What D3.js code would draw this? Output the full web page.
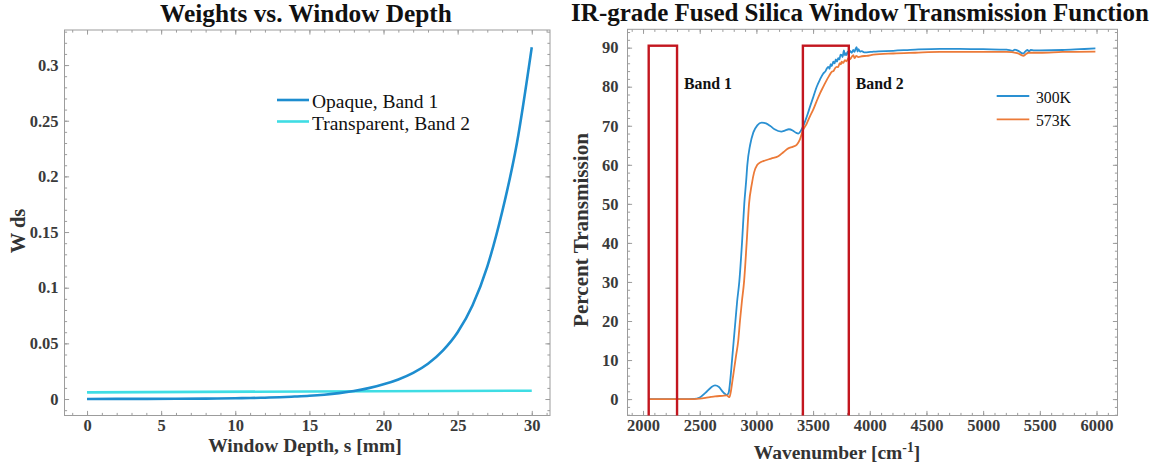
<!DOCTYPE html>
<html><head><meta charset="utf-8">
<script src="https://cdn.jsdelivr.net/npm/d3@7"></script>
<style>
body{margin:0;background:#fff}
svg{display:block}
text{font-family:"Liberation Serif","DejaVu Serif",serif}
</style>
</head><body>
<svg id="c" width="1158" height="467"></svg>
<script>
// ---------- DATA: left chart ----------
const depthS   = [0, 2, 4, 6, 8, 10, 11, 12, 13, 14, 15, 16, 17, 18, 19, 20, 21, 22, 23, 24, 25, 26, 27, 28, 29, 30];
const opaqueW  = [0.0000, 0.0001, 0.0001, 0.0002, 0.0004, 0.0007, 0.0009, 0.0012, 0.0016, 0.0022, 0.0029, 0.0039, 0.0053, 0.0072, 0.0098, 0.0132, 0.0176, 0.0235, 0.0317, 0.0435, 0.0600, 0.0840, 0.1190, 0.1680, 0.2300, 0.3160];
const transparentS = [0, 15, 30];
const transparentW = [0.0060, 0.0068, 0.0075];
const leftSeriesNames = ["Opaque, Band 1", "Transparent, Band 2"];
const leftXTicks = [0, 5, 10, 15, 20, 25, 30];
const leftYTicks = [0, 0.05, 0.1, 0.15, 0.2, 0.25, 0.3];
const leftYTickLabels = ["0", "0.05", "0.1", "0.15", "0.2", "0.25", "0.3"];

// ---------- DATA: right chart ----------
const wn300 = [2050,2200,2350,2450,2500,2550,2600,2635,2670,2700,2725,2740,2755,2770,2785,2800,2815,2830,2849,2873,2893,2910,2920,2944,2973,3008,3047,3085,3120,3160,3219,3255,3286,3320,3350,3370,3390,3420,3450,3473,3500,3532,3560,3590,3610,3620,3634,3645,3655,3665,3678,3690,3700,3710,3722,3732,3742,3752,3760,3772,3780,3790,3796,3805,3815,3825,3840,3855,3865,3875,3884,3892,3900,3914,3930,3950,3973,4031,4207,4400,4619,4795,5000,5207,5260,5280,5300,5320,5340,5355,5370,5390,5405,5420,5450,5501,5700,5850,5990];
const t300  = [0,0,0,0.05,0.4,1.6,3.0,3.5,3.1,2.0,1.3,1.1,1.6,5,10,15,20,25,30,40,50,56,60,65,68.3,70.1,70.8,70.6,70.0,69.1,68.5,68.8,69.1,68.8,68.2,68.0,68.6,70.4,72.8,74.9,77.2,80.0,81.8,83.4,84.0,84.6,85.1,84.6,85.8,85.3,86.4,86.0,87.0,86.4,87.3,87.0,88.2,88.1,87.6,89.3,88.0,88.6,88.1,89.0,88.4,89.2,88.7,89.4,88.9,89.7,90.1,89.0,89.6,89.0,89.1,88.8,88.8,89.0,89.2,89.5,89.7,89.7,89.6,89.5,89.2,89.5,89.3,89.0,88.6,88.5,89.0,89.4,89.1,89.4,89.3,89.3,89.4,89.6,89.8];
const wn573 = [2050,2200,2350,2450,2500,2550,2600,2635,2700,2738,2755,2762,2775,2790,2805,2820,2840,2855,2872,2891,2914,2935,2959,2979,3008,3040,3076,3130,3193,3240,3281,3320,3355,3384,3410,3443,3470,3502,3530,3561,3590,3620,3640,3664,3680,3695,3708,3720,3735,3745,3752,3765,3781,3795,3811,3825,3840,3855,3865,3880,3899,3930,3973,4031,4207,4400,4619,4800,5000,5207,5300,5330,5355,5375,5400,5501,5700,5990];
const t573  = [0,0,0,0,0.1,0.3,0.55,0.7,0.85,0.95,0.6,0.5,2,5,8,11,15,20,25,30,40,50,55,58,60,60.7,61.1,61.6,62.2,63.3,64.2,64.6,65.1,66.5,68.8,70.5,72.3,74.2,76.2,78.3,80.0,81.7,82.7,83.8,84.0,84.8,85.1,85.0,86.0,85.7,86.4,86.1,86.8,86.5,87.3,87.0,87.6,88.1,87.3,87.9,87.6,87.8,87.9,88.2,88.5,88.7,88.9,88.9,88.9,88.9,88.6,88.2,87.9,88.3,88.7,88.7,88.9,89.0];
const rightSeriesNames = ["300K", "573K"];
const bandNames = ["Band 1", "Band 2"];
const bandStart = [2050, 3410];
const bandEnd   = [2300, 3815];
const bandTop   = 90.5;
const rightXTicks = [2000, 2500, 3000, 3500, 4000, 4500, 5000, 5500, 6000];
const rightYTicks = [0, 10, 20, 30, 40, 50, 60, 70, 80, 90];

// ---------- STYLE ----------
const C = {opaque:"#1d8dcf", transparent:"#3fdde4", k300:"#2a90d2", k573:"#ec7a38", band:"#c3161f",
           frame:"#9c9c9c", tickText:"#3a3a3a", label:"#333", title:"#111"};
const TICK_FS = 16.5;
const AX_FS = 19.5;

const svg = d3.select("#c");

function fit(sel, target){
  const w = sel.node().getComputedTextLength();
  const fs = parseFloat(sel.attr("font-size"));
  sel.attr("font-size", fs*target/w);
  return fs*target/w;
}

function framed(g, x, y, box, xMaj, xMin, yMaj, yMin, xFmt, yFmt, xPad, yPad){
  const styleAxis = a => { a.select(".domain").remove(); a.selectAll("line").attr("stroke", C.frame); };
  const lab = a => a.attr("font-family",null).attr("font-size",null).selectAll("text")
      .attr("font-size",TICK_FS).attr("font-weight","bold").attr("fill",C.tickText);
  // minor
  g.append("g").attr("transform",`translate(0,${box.y1})`).call(d3.axisBottom(x).tickValues(xMin).tickSizeInner(-2.6).tickSizeOuter(0).tickFormat("")).call(styleAxis);
  g.append("g").attr("transform",`translate(0,${box.y0})`).call(d3.axisTop(x).tickValues(xMin).tickSizeInner(-2.6).tickSizeOuter(0).tickFormat("")).call(styleAxis);
  g.append("g").attr("transform",`translate(${box.x0},0)`).call(d3.axisLeft(y).tickValues(yMin).tickSizeInner(-2.6).tickSizeOuter(0).tickFormat("")).call(styleAxis);
  g.append("g").attr("transform",`translate(${box.x1},0)`).call(d3.axisRight(y).tickValues(yMin).tickSizeInner(-2.6).tickSizeOuter(0).tickFormat("")).call(styleAxis);
  // major
  g.append("g").attr("transform",`translate(0,${box.y1})`).call(d3.axisBottom(x).tickValues(xMaj).tickSizeInner(-4.6).tickSizeOuter(0).tickPadding(xPad).tickFormat(xFmt)).call(styleAxis).call(lab);
  g.append("g").attr("transform",`translate(0,${box.y0})`).call(d3.axisTop(x).tickValues(xMaj).tickSizeInner(-4.6).tickSizeOuter(0).tickFormat("")).call(styleAxis);
  g.append("g").attr("transform",`translate(${box.x0},0)`).call(d3.axisLeft(y).tickValues(yMaj).tickSizeInner(-4.6).tickSizeOuter(0).tickPadding(yPad).tickFormat(yFmt)).call(styleAxis).call(lab);
  g.append("g").attr("transform",`translate(${box.x1},0)`).call(d3.axisRight(y).tickValues(yMaj).tickSizeInner(-4.6).tickSizeOuter(0).tickFormat("")).call(styleAxis);
  g.append("rect").attr("x",box.x0).attr("y",box.y0).attr("width",box.x1-box.x0).attr("height",box.y1-box.y0)
    .attr("fill","none").attr("stroke",C.frame).attr("stroke-width",1);
}

// ================= LEFT CHART =================
const L = {x0:64.5, x1:550, y0:30, y1:415.5};
const xL = d3.scaleLinear().domain([-1.52, 31.23]).range([L.x0, L.x1]);
const yL = d3.scaleLinear().domain([-0.0148, 0.3315]).range([L.y1, L.y0]);
const gL = svg.append("g");
svg.append("defs").append("clipPath").attr("id","clipL").append("rect")
  .attr("x",L.x0).attr("y",L.y0).attr("width",L.x1-L.x0).attr("height",L.y1-L.y0);
framed(gL, xL, yL, L, leftXTicks, d3.range(-1, 32, 1), leftYTicks, d3.range(-0.01, 0.335, 0.01),
  d => String(d), (d,i) => leftYTickLabels[i], 3.5, 6);

const lineL = d3.line().x(d=>xL(d[0])).y(d=>yL(d[1])).curve(d3.curveMonotoneX);
const pL = gL.append("g").attr("clip-path","url(#clipL)");
pL.append("path").datum(transparentS.map((s,i)=>[s,transparentW[i]])).attr("d",lineL)
  .attr("fill","none").attr("stroke",C.transparent).attr("stroke-width",2.6);
pL.append("path").datum(depthS.map((s,i)=>[s,opaqueW[i]])).attr("d",lineL)
  .attr("fill","none").attr("stroke",C.opaque).attr("stroke-width",2.6);

// legend
const legL = gL.append("g");
const legLy = [100, 121.5], legLcol = [C.opaque, C.transparent];
leftSeriesNames.forEach((n,i)=>{
  legL.append("line").attr("x1",277).attr("x2",309).attr("y1",legLy[i]).attr("y2",legLy[i])
    .attr("stroke",legLcol[i]).attr("stroke-width",2.6);
});
const legLt = leftSeriesNames.map((n,i)=> legL.append("text").attr("x",312).attr("y",legLy[i]+8.2)
    .attr("font-size",18).attr("fill","#111").text(n));
const fsLeg = fit(legLt[1], 158);
legLt[0].attr("font-size", fsLeg);

// titles and labels
const tL = gL.append("text").attr("x",306).attr("y",22).attr("text-anchor","middle")
  .attr("font-weight","bold").attr("font-size",22).attr("fill",C.title).text("Weights vs. Window Depth");
fit(tL, 292);
gL.append("text").attr("x",305).attr("y",452).attr("text-anchor","middle")
  .attr("font-weight","bold").attr("font-size",AX_FS).attr("fill",C.label).text("Window Depth, s [mm]");
gL.append("text").attr("transform","translate(25,231) rotate(-90)").attr("text-anchor","middle")
  .attr("font-weight","bold").attr("font-size",AX_FS+1).attr("fill",C.label).text("W ds");

// ================= RIGHT CHART =================
const R = {x0:627.5, x1:1117.5, y0:29.3, y1:415.5};
const xR = d3.scaleLinear().domain([1863, 6185]).range([R.x0, R.x1]);
const yR = d3.scaleLinear().domain([-4.2, 94.7]).range([R.y1, R.y0]);
const gR = svg.append("g");
svg.select("defs").append("clipPath").attr("id","clipR").append("rect")
  .attr("x",R.x0).attr("y",R.y0).attr("width",R.x1-R.x0).attr("height",R.y1-R.y0);
framed(gR, xR, yR, R, rightXTicks, d3.range(1900, 6200, 100), rightYTicks, d3.range(-4, 95, 2),
  d => String(d), d => String(d), 3.5, 9);

const pR = gR.append("g").attr("clip-path","url(#clipR)");
const lineR = d3.line().x(d=>xR(d[0])).y(d=>yR(d[1])).curve(d3.curveMonotoneX);
pR.append("path").datum(wn300.map((w,i)=>[w,t300[i]])).attr("d",lineR)
  .attr("fill","none").attr("stroke",C.k300).attr("stroke-width",1.8).attr("stroke-linejoin","round");
pR.append("path").datum(wn573.map((w,i)=>[w,t573[i]])).attr("d",lineR)
  .attr("fill","none").attr("stroke",C.k573).attr("stroke-width",1.8).attr("stroke-linejoin","round");
bandNames.forEach((n,i)=>{
  pR.append("rect").attr("x",xR(bandStart[i])).attr("y",yR(bandTop))
    .attr("width",xR(bandEnd[i])-xR(bandStart[i])).attr("height",yR(-6)-yR(bandTop))
    .attr("fill","none").attr("stroke",C.band).attr("stroke-width",2.4);
});
const bandLabelX = [684, 855.7];
const bl = bandNames.map((n,i)=> gR.append("text").attr("x",bandLabelX[i]).attr("y",88.8)
  .attr("font-weight","bold").attr("font-size",15).attr("fill","#111").text(n));
const fsBand = fit(bl[0], 48);
bl[1].attr("font-size", fsBand);

// legend
const legRy = [96, 119.3], legRcol = [C.k300, C.k573];
const lrt = rightSeriesNames.map((n,i)=>{
  gR.append("line").attr("x1",996.7).attr("x2",1029.3).attr("y1",legRy[i]).attr("y2",legRy[i])
    .attr("stroke",legRcol[i]).attr("stroke-width",1.8);
  return gR.append("text").attr("x",1036).attr("y",legRy[i]+6.8).attr("font-size",16).attr("fill","#111").text(n);
});
const fsLR = fit(lrt[0], 35);
lrt[1].attr("font-size", fsLR);

const tR = gR.append("text").attr("x",860).attr("y",21).attr("text-anchor","middle")
  .attr("font-weight","bold").attr("font-size",22).attr("fill",C.title).text("IR-grade Fused Silica Window Transmission Function");
fit(tR, 578);
const xlR = gR.append("text").attr("x",837).attr("y",459).attr("text-anchor","middle")
  .attr("font-weight","bold").attr("font-size",AX_FS).attr("fill",C.label);
xlR.append("tspan").text("Wavenumber [cm");
xlR.append("tspan").attr("dy",-7).attr("font-size",AX_FS*0.7).text("-1");
xlR.append("tspan").attr("dy",7).text("]");
const ylR = gR.append("text").attr("transform","translate(588,230) rotate(-90)").attr("text-anchor","middle")
  .attr("font-weight","bold").attr("font-size",AX_FS).attr("fill",C.label).text("Percent Transmission");
fit(ylR, 194);
</script>
</body></html>
